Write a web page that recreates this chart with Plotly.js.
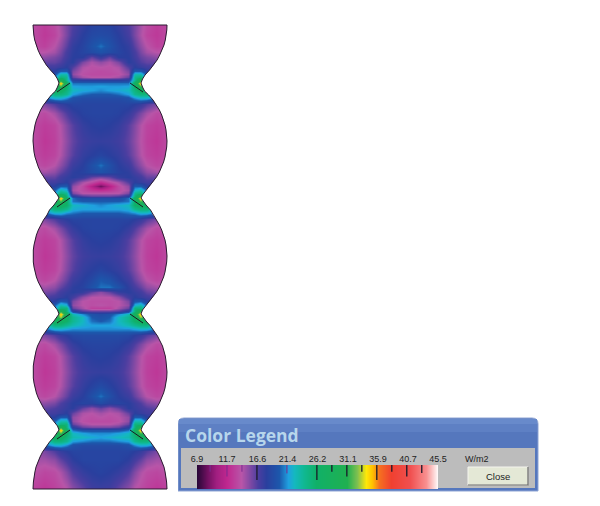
<!DOCTYPE html>
<html><head><meta charset="utf-8">
<script src="https://cdn.plot.ly/plotly-3.0.1.min.js"></script>
<style>html,body{margin:0;padding:0;background:#fff}#c{width:600px;height:506px}</style>
</head><body><div id="c"></div>
<script>
// Colour scale (W/m2 value -> colour)
const stopValues=[6.9,8.5,10,11.7,14,16.6,18,20,21.4,22.5,24,26,31,32.5,34,35,36,38,41,43.5,45.5];
const stopColors=['#2a0838','#701060','#a01e80','#c0288f','#b855a8','#4a3ea0','#2a3f9e','#1c58ac','#20a0e0','#14b8c0','#10b890','#10b068','#20b050','#80c050','#ffe808','#ffc000','#f57020','#f04030','#f05050','#f89090','#ffffff'];
const legendValues=[6.9,11.7,16.6,21.4,26.2,31.1,35.9,40.7,45.5];
const legendLabels=['6.9','11.7','16.6','21.4','26.2','31.1','35.9','40.7','45.5'];
const legendBarValues=[6.9,8,10,11.7,14,16.6,18,20,21.4,22.5,24,26,31,32.5,34,35,36,38,41,43.5,45.5];
const darkTicks=[16.5,26.1,28.5,30.9,33.3,35.7,38.1,40.5,42.9];
const darkTickDepth=[0.62,0.62,0.28,0.48,0.28,0.62,0.28,0.48,0.33];
const faintTicks=[9,11.7,14.1,21.3];
const faintTickDepth=[0.28,0.48,0.28,0.35];

// Flux field grid
const gridX=[33,44,54,60,66,72,82,91,100,109,118,128,134,140,146,156,167];
const gridY=[25,35,46,52,57,62,67,71,74,77,80,
83,86,90,94,98,104,113,125,141,155,165,172,177,182,186,190,193,196,
198,201,205,209,213,219,228,240,256,270,280,287,292,297,301,305,308,311,
314,317,321,325,329,335,344,356,372,386,396,403,408,413,417,421,424,427,
430,433,437,441,445,451,460,472,489];
const flux=[
[13.5,12.8,13.5,14.5,15.5,16.5,17.5,18.3,18.5,18.3,17.5,16.5,15.5,14.5,13.5,12.8,13.5],
[13.5,12.6,13.2,14.3,15.5,16.8,18,18.8,19,18.8,18,16.8,15.5,14.3,13.2,12.6,13.5],
[13.5,13,14,15,16.2,17.6,18.4,19.5,20.5,19.5,18.4,17.6,16.2,15,14,13,13.5],
[14,14,14.5,15.5,16.8,17.8,18.5,19,19.5,19,18.5,17.8,16.8,15.5,14.5,14,14],
[15,15,15.5,16,17,18,18,16,17.5,16,18,18,17,16,15.5,15,15],
[16,16,16,16.5,17.5,18,15.5,14.3,15,14.3,15.5,18,17.5,16.5,16,16,16],
[17,17,17,17.5,18,16.5,14.3,13.8,14,13.8,14.3,16.5,18,17.5,17,17,17],
[18,18,18,20,20,15.5,14,13.7,13.5,13.7,14,15.5,20,20,18,18,18],
[19,19,19,23,23,15,13.8,13.5,13.5,13.5,13.8,15,23,23,19,19,19],
[20,20,21,25,24,16,14.5,14,14,14,14.5,16,24,25,21,20,20],
[20,20,22,30,24,18.5,18,18,18,18,18,18.5,24,30,22,20,20],
[22,22,26,35,27,20.5,20.5,20.5,20.5,20.5,20.5,20.5,27,35,26,22,22],
[23,23,27,32,26,21.5,21.3,21.3,21.5,21.3,21.3,21.5,26,32,27,23,23],
[24,24,27,27,25,22.5,21.8,21.5,21,21.5,21.8,22.5,25,27,27,24,24],
[22,22,25,25,24,21.5,20.5,20,20,20,20.5,21.5,24,25,25,22,22],
[20,20,22,22,21,19.5,19,19,19,19,19,19.5,21,22,22,20,20],
[15,15.5,16.5,17.5,18,18.5,18.5,18.5,18.5,18.5,18.5,18.5,18,17.5,16.5,15.5,15],
[14,13.5,14.5,15.5,16.5,17.5,18.3,18.5,18.5,18.5,18.3,17.5,16.5,15.5,14.5,13.5,14],
[13.5,12.8,13.2,14.2,15.3,16.3,17.5,18,18.2,18,17.5,16.3,15.3,14.2,13.2,12.8,13.5],
[13.5,12.5,13,14,15,16,17,17.4,17.5,17.4,17,16,15,14,13,12.5,13.5],
[13.5,12.8,13.2,14.2,15.3,16.3,17.5,18,18.5,18,17.5,16.3,15.3,14.2,13.2,12.8,13.5],
[14,13.3,14,15,16,17.2,18,19.3,20.5,19.3,18,17.2,16,15,14,13.3,14],
[15,14.5,15,16,16.8,17.8,18.3,19,19.5,19,18.3,17.8,16.8,16,15,14.5,15],
[15.5,16,16,17,17.5,18,17.5,16,15.5,16,17.5,18,17.5,17,16,16,15.5],
[17,17,17,17.5,18,16.5,14.5,13.5,12,13.5,14.5,16.5,18,17.5,17,17,17],
[18,18,18,20,20,15,13.5,11,8.5,11,13.5,15,20,20,18,18,18],
[19,19,20,23,22,14.5,13.5,12.5,12,12.5,13.5,14.5,22,23,20,19,19],
[20,20,21,25,24,15.5,14,14,14,14,14,15.5,24,25,21,20,20],
[20,20,23,31,25,18,16.5,16,16,16,16.5,18,25,31,23,20,20],
[22,22,26,35,27,20.5,19,19,19,19,19,20.5,27,35,26,22,22],
[23,23,27,32,26,20.5,20,20,20,20,20,20.5,26,32,27,23,23],
[24,24,27,27,26,22.5,22,21.5,21,21.5,22,22.5,26,27,27,24,24],
[22,22,25,25,24,22,21.5,21.5,21.5,21.5,21.5,22,24,25,25,22,22],
[20,20,22,22,21,20.5,20,20,20,20,20,20.5,21,22,22,20,20],
[15,15.5,16.5,17.5,18,18.5,18.5,18.5,18.5,18.5,18.5,18.5,18,17.5,16.5,15.5,15],
[14,13.5,14.5,15.5,16.5,17.5,18.3,18.5,18.5,18.5,18.3,17.5,16.5,15.5,14.5,13.5,14],
[13.5,12.8,13.2,14.2,15.3,16.3,17.5,18,18.2,18,17.5,16.3,15.3,14.2,13.2,12.8,13.5],
[13.5,12.5,13,14,15,16,17,17.4,17.5,17.4,17,16,15,14,13,12.5,13.5],
[13.5,12.8,13.2,14.2,15.3,16.3,17.5,18,18.5,18,17.5,16.3,15.3,14.2,13.2,12.8,13.5],
[14,13.3,14,15,16,17.2,18,18.8,20,19.5,18.3,17.2,16,15,14,13.3,14],
[15,14.5,15,16,16.8,17.8,18.3,19.5,20.5,20.5,19.5,17.8,16.8,16,15,14.5,15],
[15.5,15.5,16,17,17.5,18,17.5,16,15,16,17.5,18,17.5,17,16,15.5,15.5],
[16.5,16.5,17,17.5,18,17,15,14,14,14,15,17,18,17.5,17,16.5,16.5],
[18,18,18,20,19.5,15.5,14,13.7,13.7,13.7,14,15.5,19.5,20,18,18,18],
[19,19,20,23,22,15,14,13.7,14,13.7,14,15,22,23,20,19,19],
[20,20,21,25,25,16,14.5,13,13,13,14.5,16,25,25,21,20,20],
[20,20,23,31,25,18.5,16.5,16,16,16,16.5,18.5,25,31,23,20,20],
[22,22,26,35,28,23,21,19.5,19,19.5,21,23,28,35,26,22,22],
[23,23,28,33,27,24,22.5,20,19.5,20,22.5,24,27,33,28,23,23],
[24,24,28,27,26,24,22.5,20.5,20,20.5,22.5,24,26,27,28,24,24],
[22,22,25,25,24,23,22,21.5,21.5,21.5,22,23,24,25,25,22,22],
[20,20,22,22,21.5,21,21,21,21,21,21,21,21.5,22,22,20,20],
[15,15.5,16.5,17.5,18,18.8,19,19,19,19,19,18.8,18,17.5,16.5,15.5,15],
[14,13.5,14.5,15.5,16.5,17.5,18.3,18.5,18.5,18.5,18.3,17.5,16.5,15.5,14.5,13.5,14],
[13.5,12.8,13.2,14.2,15.3,16.3,17.5,18,18.2,18,17.5,16.3,15.3,14.2,13.2,12.8,13.5],
[13.5,12.5,13,14,15,16,17,17.4,17.5,17.4,17,16,15,14,13,12.5,13.5],
[13.5,12.8,13.2,14.2,15.3,16.3,17.5,18.3,19,18.3,17.5,16.3,15.3,14.2,13.2,12.8,13.5],
[14,13.3,14,15,16,17.2,18,19.3,20.5,19.3,18,17.2,16,15,14,13.3,14],
[15,15,15.5,16.5,17.2,18,18.5,18.3,19,18.3,18.5,18,17.2,16.5,15.5,15,15],
[16,16,16.5,17,17.5,18,16,15,16,15,16,18,17.5,17,16.5,16,16],
[17,17,17,17.5,18,16,14.3,14,14.5,14,14.3,16,18,17.5,17,17,17],
[18,18,18,20,20,15,14,13.7,14,13.7,14,15,20,20,18,18,18],
[19,19,20,23,23,15,13.8,13.5,13.5,13.5,13.8,15,23,23,20,19,19],
[20,20,21,25,25,16,14.5,14,14,14,14.5,16,25,25,21,20,20],
[20,20,23,31,25,18,16,15.5,15.5,15.5,16,18,25,31,23,20,20],
[22,22,26,35,27,20.5,19.5,19.5,19.5,19.5,19.5,20.5,27,35,26,22,22],
[23,23,27,32,26,22.5,21.5,21,21,21,21.5,22.5,26,32,27,23,23],
[24,24,27,27,25,23,22.5,22,21.5,22,22.5,23,25,27,27,24,24],
[22,22,25,25,24,21.5,21,20.5,20.5,20.5,21,21.5,24,25,25,22,22],
[20,20,22,22,21,19.5,19,19,19,19,19,19.5,21,22,22,20,20],
[15,15.5,16.5,17.5,18,18.5,18.5,18.5,18.5,18.5,18.5,18.5,18,17.5,16.5,15.5,15],
[14.5,14.5,15,16,16.8,17.8,18.5,18.5,18.5,18.5,18.5,17.8,16.8,16,15,14.5,14.5],
[14,13.3,13.6,14.3,15.3,16.5,17.5,18,18.3,18,17.5,16.5,15.3,14.3,13.6,13.3,14],
[13,12.5,13,13.5,14,15,16,17,17.2,17,16,15,14,13.5,13,12.5,13]
];

// Bead outline
const edgeY=[25,30,35,40,45,50,55,60,65,70,75,79,83,87,91,95,100,105,110,115,120,125,130,135,141,147,152,157,162,167,172,177,182,187,191,195,198,
201,205,210,215,220,225,230,235,240,245,250,256,262,267,272,277,282,287,292,297,302,306,310,314,
317,321,326,331,336,341,346,351,356,361,366,372,378,383,388,393,398,403,408,413,418,422,426,430,
433,437,442,447,452,457,462,467,472,477,482,489];
const leftEdgeX=[33,33.2,33.8,34.7,36,38,40.3,42.9,46.3,50.4,55,57.5,59,57.5,55.5,51.3,47,43.5,40.6,38.3,36.4,35,34,33.3,33,33.3,34,35,36.4,38.3,40.6,43.5,47,51,54.5,57.5,59,
57,54,49.5,47,43.5,40.6,38.3,36.4,35,34,33.3,33,33.3,34,35,36.4,38.3,40.6,43.5,47,51,54.5,57.5,59,
57,54,49.5,46,42.5,40,37.5,36,34.7,34,33.3,33,33.3,34,35,36.4,38.3,40.6,43.5,47,51,54.5,57.5,59,
57,54,49.5,46,42.5,40,37.8,36,34.9,34,33.4,33];
const rightEdgeX=[167,166.8,166.2,165.3,164,162,159.7,157.1,153.7,149.6,145,142.5,141,142.5,144.5,148.7,153,156.5,159.4,161.7,163.6,165,166,166.7,167,166.7,166,165,163.6,161.7,159.4,156.5,153,149,145.5,142.5,141,
143,146,150.5,153,156.5,159.4,161.7,163.6,165,166,166.7,167,166.7,166,165,163.6,161.7,159.4,156.5,153,149,145.5,142.5,141,
143,146,150.5,154,157.5,160,162.5,164,165.3,166,166.7,167,166.7,166,165,163.6,161.7,159.4,156.5,153,149,145.5,142.5,141,
143,146,150.5,154,157.5,160,162.2,164,165.1,166,166.6,167];
// Contact lines across the four necks
const contactX=[70,57,null,130,143,null,70,57,null,130,143,null,70,57,null,130,143,null,70,57,null,130,143];
const contactY=[83,92,null,83,92,null,198,207,null,198,207,null,314,323,null,314,323,null,430,439,null,430,439];

const colorscale=stopValues.map((v,i)=>[(v-6.9)/(45.5-6.9),stopColors[i]]);
function ticks(vals,depth){const x=[],y=[];vals.forEach((v,i)=>{x.push(v,v,null);y.push(1,1-depth[i],null);});return {x,y};}
const dt=ticks(darkTicks,darkTickDepth), ft=ticks(faintTicks,faintTickDepth);
const maskL={x:[100,100].concat(leftEdgeX,[100,100,15,15]),y:[5,25].concat(edgeY,[489,506,506,5])};
const maskR={x:[100,100].concat(rightEdgeX,[100,100,178,178]),y:[5,25].concat(edgeY,[489,506,506,5])};
const outlineX=leftEdgeX.concat(rightEdgeX.slice().reverse(),[33]);
const outlineY=edgeY.concat(edgeY.slice().reverse(),[25]);

const data=[
 {type:'heatmap',x:gridX,y:gridY,z:flux,coloraxis:'coloraxis',zsmooth:'best',hoverinfo:'skip'},
 {type:'scatter',mode:'none',x:maskL.x,y:maskL.y,fill:'toself',fillcolor:'#fff',hoverinfo:'skip'},
 {type:'scatter',mode:'none',x:maskR.x,y:maskR.y,fill:'toself',fillcolor:'#fff',hoverinfo:'skip'},
 {type:'scatter',mode:'lines',x:outlineX,y:outlineY,line:{color:'#2a1a30',width:1},hoverinfo:'skip'},
 {type:'scatter',mode:'lines',x:contactX,y:contactY,line:{color:'#1a1a20',width:1},hoverinfo:'skip'},
 {type:'heatmap',x:legendBarValues,y:[0,1],z:[legendBarValues,legendBarValues],coloraxis:'coloraxis',zsmooth:'best',xaxis:'x2',yaxis:'y2',hoverinfo:'skip'},
 {type:'scatter',mode:'lines',x:ft.x,y:ft.y,xaxis:'x2',yaxis:'y2',line:{color:'#7a2a90',width:1},hoverinfo:'skip'},
 {type:'scatter',mode:'lines',x:dt.x,y:dt.y,xaxis:'x2',yaxis:'y2',line:{color:'#1a1a2a',width:1.3},hoverinfo:'skip'}
];
const layout={
 width:600,height:506,margin:{l:0,r:0,t:0,b:0},paper_bgcolor:'#fff',plot_bgcolor:'rgba(0,0,0,0)',showlegend:false,
 coloraxis:{colorscale:colorscale,cmin:6.9,cmax:45.5,showscale:false},
 xaxis:{range:[0,600],domain:[0,1],visible:false,fixedrange:true},
 yaxis:{range:[506,0],domain:[0,1],visible:false,fixedrange:true},
 xaxis2:{range:[6.9,45.5],domain:[197/600,438/600],anchor:'y2',side:'top',tickmode:'array',tickvals:legendValues,ticktext:legendLabels,
   showgrid:false,zeroline:false,showline:false,ticks:'',tickangle:0,tickfont:{family:'Liberation Sans',size:9,color:'#222'},fixedrange:true},
 yaxis2:{range:[0,1],domain:[1-489/506,1-465/506],anchor:'x2',visible:false,fixedrange:true},
 shapes:[
  {type:'path',layer:'below',xref:'x',yref:'y',path:'M178,491 L178,424 Q178,418 184,418 L532,418 Q538,418 538,424 L538,491 Z',fillcolor:'#5577bd',line:{color:'#8fa5d4',width:1}},
  {type:'rect',layer:'below',xref:'x',yref:'y',x0:179,x1:537,y0:419,y1:424,fillcolor:'#688acb',line:{width:0}},
  {type:'rect',layer:'below',xref:'x',yref:'y',x0:179,x1:537,y0:424,y1:432,fillcolor:'#5e80c4',line:{width:0}},
  {type:'rect',layer:'below',xref:'x',yref:'y',x0:181,x1:535,y0:448,y1:488,fillcolor:'#bcbcbc',line:{width:0}},
  {type:'rect',layer:'above',xref:'x',yref:'y',x0:468,x1:528,y0:467,y1:485,fillcolor:'#e4e8d6',line:{color:'#f4f4ee',width:1}},
  {type:'path',layer:'above',xref:'x',yref:'y',path:'M528,467 L528,485 L468,485',line:{color:'#666',width:1.2},fillcolor:'rgba(0,0,0,0)'}
 ],
 annotations:[
  {xref:'x',yref:'y',x:183,y:435,xanchor:'left',yanchor:'middle',text:'<b>Color Legend</b>',showarrow:false,font:{family:'Open Sans',size:17.5,color:'#b7d6ec'}},
  {xref:'x',yref:'y',x:477,y:459,xanchor:'center',yanchor:'middle',text:'W/m2',showarrow:false,font:{family:'Liberation Sans',size:9,color:'#222'}},
  {xref:'x',yref:'y',x:498,y:476,xanchor:'center',yanchor:'middle',text:'Close',showarrow:false,font:{family:'Liberation Sans',size:9.5,color:'#222'}}
 ]
};
Plotly.newPlot('c',data,layout,{staticPlot:true,displayModeBar:false});
</script></body></html>
